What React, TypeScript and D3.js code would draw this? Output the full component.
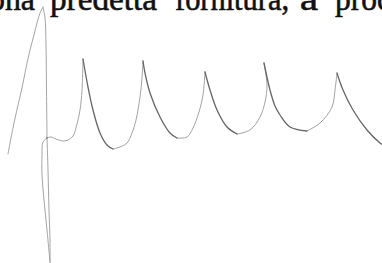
import React from "react";
import * as d3 from "d3";

const WIDTH = 382;
const HEIGHT = 263;

// scanned trace, time in s and amplitude in mV
const leftSpike: [number, number][] = [
  [0.16, 0.46], [0.26, 0.72], [0.36, 0.95], [0.44, 1.12], [0.52, 1.32],
  [0.6, 1.5], [0.68, 1.65], [0.74, 1.77], [0.8, 1.87], [0.86, 1.93],
];
const spikeDrop: [number, number][] = [
  [0.86, 1.93], [0.9, 1.82], [0.92, 1.55], [0.93, 1.1], [0.94, 0.62],
];
const branchA: [number, number][] = [
  [0.94, 0.62], [0.86, 0.58], [0.84, 0.45], [0.84, 0.25], [0.88, 0.0],
  [0.94, -0.3], [1.0, -0.62],
];
const branchB: [number, number][] = [
  [0.94, 0.62], [0.96, 0.3], [0.98, -0.1], [1.0, -0.4], [1.0, -0.64],
];

// periodic part, one array per beat (cusp to cusp)
const beat0: [number, number][] = [
  [0.94, 0.62], [1.02, 0.63], [1.12, 0.61], [1.26, 0.59], [1.36, 0.6],
  [1.46, 0.64], [1.54, 0.76], [1.6, 0.9], [1.64, 1.1], [1.66, 1.41],
];
const beat1: [number, number][] = [
  [1.66, 1.41], [1.76, 1.13], [1.86, 0.9], [2.0, 0.67], [2.14, 0.55],
  [2.26, 0.51], [2.4, 0.53], [2.54, 0.57], [2.64, 0.67], [2.72, 0.8],
  [2.8, 1.03], [2.84, 1.22], [2.86, 1.39],
];
const beat2: [number, number][] = [
  [2.86, 1.39], [2.9, 1.27], [3.0, 1.07], [3.2, 0.83], [3.4, 0.67],
  [3.54, 0.62], [3.74, 0.63], [3.86, 0.72], [3.98, 0.88], [4.06, 1.05],
  [4.1, 1.28],
];
const beat3: [number, number][] = [
  [4.1, 1.28], [4.2, 1.1], [4.34, 0.9], [4.54, 0.73], [4.74, 0.66],
  [5.0, 0.7], [5.2, 0.83], [5.3, 0.98], [5.34, 1.15], [5.28, 1.37],
];
const beat4: [number, number][] = [
  [5.28, 1.37], [5.4, 1.1], [5.5, 0.94], [5.6, 0.85], [5.8, 0.73],
  [6.14, 0.69], [6.4, 0.77], [6.64, 0.93], [6.7, 1.1], [6.74, 1.27],
];
const beat5: [number, number][] = [
  [6.74, 1.27], [6.86, 1.1], [7.06, 0.9], [7.34, 0.7], [7.6, 0.57],
  [7.66, 0.55],
];
const beats = [beat0, beat1, beat2, beat3, beat4, beat5];

// line of text printed above the figure
const words = ["ona", "predetta", "fornitura,", "a", "proc"];
const wordX = [-11, 50, 175, 300, 335];
const wordW = [46, 107, 114, 18, 56];

export default function App() {
  const x = d3.scaleLinear().domain([0, 7.64]).range([0, WIDTH]);
  const y = d3.scaleLinear().domain([-0.63, 2.0]).range([HEIGHT, 0]);
  const line = d3
    .line<[number, number]>()
    .x((d) => x(d[0]))
    .y((d) => y(d[1]))
    .curve(d3.curveCatmullRom.alpha(0.5));

  const falls: [number, number][][] = [];
  const rises: [number, number][][] = [];
  beats.forEach((b, k) => {
    const i = k === 0 ? 0 : d3.minIndex(b, (d) => d[1]);
    falls.push(b.slice(0, i + 1));
    rises.push(b.slice(i));
  });

  return (
    <svg
      width={WIDTH}
      height={HEIGHT}
      style={{ position: "fixed", left: 0, top: 0, background: "#fff" }}
    >
      <g
        fontFamily="'Liberation Serif', 'Times New Roman', serif"
        fontSize={33}
        fill="#111"
        stroke="#111"
        strokeWidth={0.6}
      >
        {words.map((w, i) => (
          <text key={i} x={wordX[i]} y={10} textLength={wordW[i]} lengthAdjust="spacingAndGlyphs">
            {w}
          </text>
        ))}
      </g>
      <g fill="none" strokeLinecap="round" strokeLinejoin="round">
        {[leftSpike, spikeDrop, branchA, branchB].map((d, i) => (
          <path key={"s" + i} d={line(d) ?? ""} stroke="#9a9a9a" strokeWidth={0.9} />
        ))}
        {rises.map((d, i) => (
          <path key={"r" + i} d={line(d) ?? ""} stroke="#999" strokeWidth={0.9} />
        ))}
        {falls.map((d, i) => (
          <path key={"f" + i} d={line(d) ?? ""} stroke="#666" strokeWidth={1.3} />
        ))}
      </g>
    </svg>
  );
}
